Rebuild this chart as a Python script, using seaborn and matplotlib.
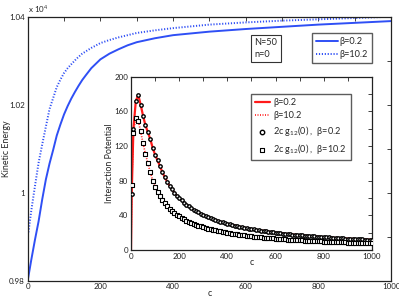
import numpy as np
import pandas as pd
import matplotlib
matplotlib.use('Agg')
import matplotlib.pyplot as plt
import seaborn as sns
from matplotlib.ticker import MultipleLocator, FuncFormatter

sns.set_style('white')
plt.rcParams['font.family'] = ['Lato', 'DejaVu Sans']
plt.rcParams['mathtext.fontset'] = 'custom'
plt.rcParams['mathtext.rm'] = 'Lato'

# kinetic energy vs c (main panel)
ke_c_low = [0, 10, 20, 30, 40, 50, 60, 70, 80, 90, 100, 110, 120, 130, 140, 150, 160,
            175, 200, 225, 250, 275, 300, 350, 400, 450, 500, 600, 700, 800, 900, 1000]
ke_beta_low = [9800, 9848, 9893, 9935, 9985, 10030, 10066, 10097, 10130, 10155, 10178,
               10197, 10214, 10229, 10243, 10256, 10267, 10283, 10303, 10316, 10326,
               10335, 10342, 10351, 10358, 10362, 10366, 10372, 10377, 10382, 10386,
               10390]
ke_c_high = [2, 10, 20, 30, 40, 50, 60, 70, 80, 90, 100, 110, 120, 135, 150, 175, 200,
             225, 250, 275, 300, 350, 400, 450, 500, 600, 700, 800, 900, 1000]
ke_beta_high = [9910, 9960, 10015, 10068, 10110, 10150, 10190, 10215, 10240, 10257,
                10272, 10283, 10292, 10305, 10316, 10329, 10340, 10347, 10353, 10358,
                10363, 10369, 10374, 10378, 10382, 10387, 10391, 10394, 10397, 10400]

# interaction potential (inset), sampled every 10 in c
ip_c = np.concatenate([[3], np.arange(10, 1001, 10)])
ip_beta_low = [65, 140, 172, 179, 168, 155, 144, 136, 128, 118, 110, 103.5, 97, 90, 84,
               79, 74.2, 70, 66.3, 62.9, 60, 57.3, 54.8, 52.5, 50.4, 48.4, 46.6, 44.9,
               43.3, 41.8, 40.4, 39.1, 37.9, 36.8, 35.7, 34.7, 33.7, 32.8, 31.9, 31.1,
               30.3, 29.6, 28.9, 28.2, 27.5, 26.9, 26.3, 25.8, 25.2, 24.7, 24.2, 23.7,
               23.3, 22.8, 22.4, 22.0, 21.6, 21.2, 20.8, 20.4, 20.0, 19.7, 19.4, 19.0,
               18.7, 18.4, 18.1, 17.8, 17.5, 17.3, 17.0, 16.8, 16.5, 16.3, 16.1, 15.8,
               15.6, 15.4, 15.2, 15.0, 14.8, 14.6, 14.4, 14.2, 14.0, 13.8, 13.7, 13.5,
               13.3, 13.2, 13.0, 12.9, 12.7, 12.6, 12.4, 12.3, 12.2, 12.0, 11.9, 11.8,
               11.6]
ip_beta_high = [75, 135, 153, 149, 137, 123, 111, 100, 90, 80, 73, 67.5, 62.5, 58, 54.2,
                50.8, 47.8, 45.2, 42.8, 40.7, 38.8, 37.1, 35.5, 34.0, 32.7, 31.4, 30.2,
                29.1, 28.1, 27.2, 26.3, 25.5, 24.7, 24.0, 23.3, 22.6, 22.0, 21.4, 20.9,
                20.3, 19.8, 19.3, 18.9, 18.4, 18.0, 17.6, 17.2, 16.8, 16.5, 16.2, 15.8,
                15.5, 15.2, 14.9, 14.6, 14.3, 14.1, 13.8, 13.6, 13.3, 13.1, 12.9, 12.7,
                12.4, 12.2, 12.0, 11.8, 11.7, 11.5, 11.3, 11.2, 11.0, 10.8, 10.7, 10.5,
                10.4, 10.2, 10.1, 9.9, 9.8, 9.7, 9.6, 9.4, 9.3, 9.2, 9.1, 9.0, 8.9, 8.8,
                8.7, 8.6, 8.5, 8.4, 8.3, 8.2, 8.1, 8.0, 7.9, 7.8, 7.8, 7.7]

blue = '#2f4ff5'
red = '#ff1a1a'
fs = 5.6

fig = plt.figure(figsize=(3.99, 2.99), dpi=100)
ax = fig.add_axes([0.0694, 0.0612, 0.911, 0.883])

sns.lineplot(x=ke_c_low, y=ke_beta_low, ax=ax, color=blue, lw=1.4, label='β=0.2')
sns.lineplot(x=ke_c_high, y=ke_beta_high, ax=ax, color=blue, lw=1.4, ls=(0, (0.6, 0.9)),
             label='β=10.2')
ax.set_xlim(0, 1000)
ax.set_ylim(9800, 10400)
ax.xaxis.set_major_locator(MultipleLocator(200))
ax.xaxis.set_minor_locator(MultipleLocator(100))
ax.yaxis.set_major_locator(MultipleLocator(200))
ax.yaxis.set_minor_locator(MultipleLocator(100))
ax.yaxis.set_major_formatter(FuncFormatter(lambda v, p: '%g' % round(v / 1e4, 4)))
ax.set_xlabel('c', fontsize=fs + 0.8, labelpad=-1)
ax.set_ylabel('Kinetic Energy', fontsize=fs + 0.8, labelpad=-1)
ax.text(0.0, 1.005, r'x 10$^4$', transform=ax.transAxes, fontsize=fs + 0.2, va='bottom')
ax.legend(loc='upper right', bbox_to_anchor=(0.947, 0.938), fontsize=fs + 1.0,
          frameon=True, fancybox=False, edgecolor='#333333', handlelength=2.4,
          handletextpad=0.1, borderpad=0.45, labelspacing=0.45, borderaxespad=0)
ax.text(0.624, 0.918, 'N=50\nn=0', transform=ax.transAxes, fontsize=fs + 1.0,
        va='top', ha='left', linespacing=1.35,
        bbox=dict(boxstyle='square,pad=0.35', fc='white', ec='#333333', lw=0.8))

ins = fig.add_axes([0.3283, 0.164, 0.604, 0.579])
sns.lineplot(x=np.concatenate([[0], ip_c]), y=[0] + ip_beta_low, ax=ins, color=red,
             lw=1.6, label='β=0.2')
sns.lineplot(x=np.concatenate([[0], ip_c]), y=[0] + ip_beta_high, ax=ins, color=red,
             lw=1.2, ls=(0, (0.6, 0.9)), label='β=10.2')
sns.scatterplot(x=ip_c, y=ip_beta_low, ax=ins, marker='o', s=6, facecolor='white',
                edgecolor='black', linewidth=1.0, label='2c g$_{12}$(0) ,  β=0.2', zorder=3)
sns.scatterplot(x=ip_c, y=ip_beta_high, ax=ins, marker='s', s=6, facecolor='white',
                edgecolor='black', linewidth=0.8, label='2c g$_{12}$(0) ,  β=10.2', zorder=3)
ins.set_xlim(0, 1000)
ins.set_ylim(0, 200)
ins.xaxis.set_major_locator(MultipleLocator(200))
ins.xaxis.set_minor_locator(MultipleLocator(100))
ins.yaxis.set_major_locator(MultipleLocator(40))
ins.yaxis.set_minor_locator(MultipleLocator(20))
ins.set_xlabel('c', fontsize=fs + 0.8, labelpad=-1)
ins.set_ylabel('Interaction Potential', fontsize=fs + 0.8, labelpad=0)
ins.legend(loc='upper left', bbox_to_anchor=(0.5, 0.9), fontsize=fs + 1.0,
           frameon=True, fancybox=False, edgecolor='#333333', handlelength=1.6,
           handletextpad=0.4, borderpad=0.4, labelspacing=0.45, borderaxespad=0,
           markerscale=1.3)

for a in (ax, ins):
    a.tick_params(which='both', direction='in', top=True, right=True, length=3,
                  width=0.6, labelsize=fs + 0.2, pad=2, colors='#222222')
    for s in a.spines.values():
        s.set_color('#222222')
        s.set_linewidth(0.9)

fig.savefig('out.png', dpi=100)
